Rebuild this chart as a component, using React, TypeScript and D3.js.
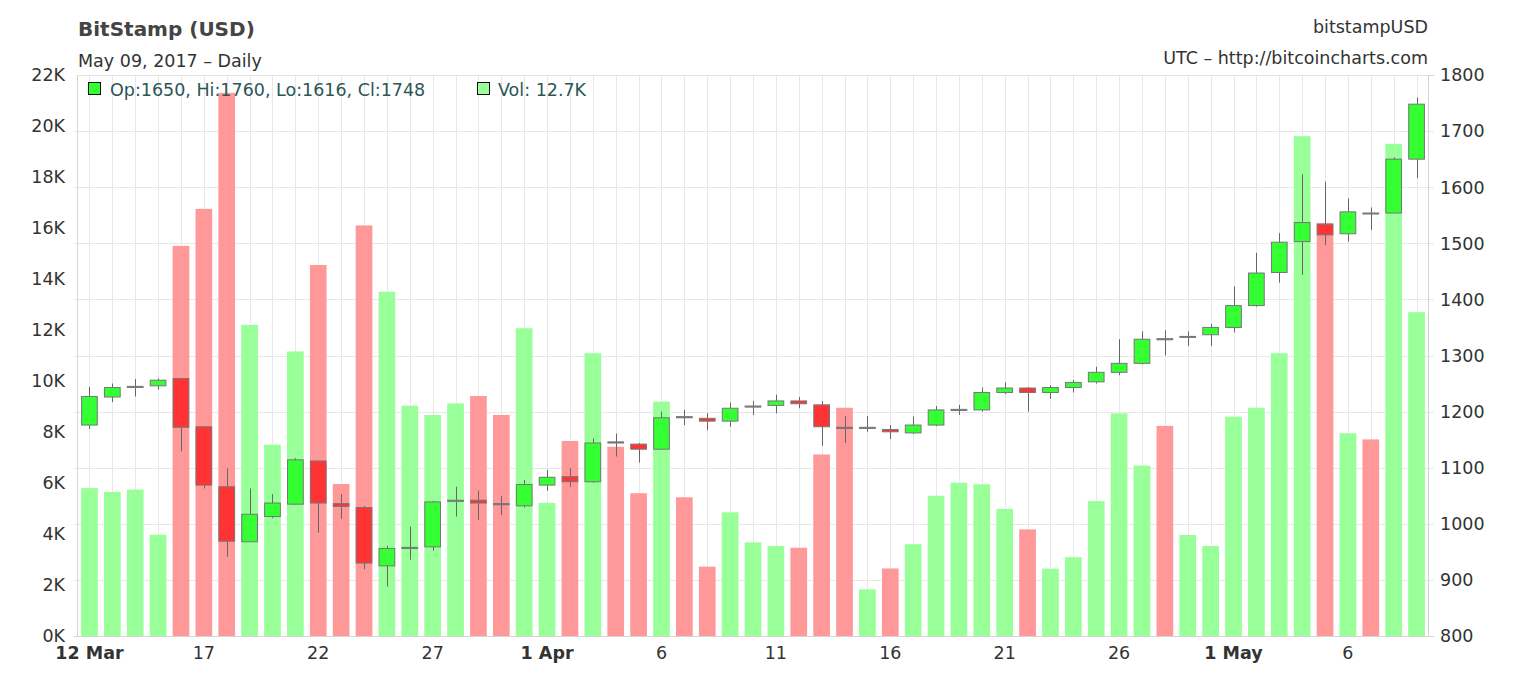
import React, { useEffect } from "react";
import * as d3 from "d3";

// daily candles, 12 Mar 2017 .. 9 May 2017
const days = d3.timeDay.range(new Date(2017, 2, 12), new Date(2017, 4, 10));

const opens = [
  1176, 1226, 1243, 1246, 1259, 1173, 1066, 968, 1013, 1035, 1112, 1036, 1029, 925, 956,
  959, 1040, 1042, 1036, 1032, 1069, 1084, 1075, 1146, 1142, 1133, 1191, 1188, 1183, 1208,
  1211, 1219, 1212, 1172, 1170, 1168, 1162, 1176, 1202, 1203, 1234, 1242, 1234, 1243, 1253,
  1270, 1286, 1330, 1333, 1337, 1350, 1389, 1448, 1503, 1534, 1517, 1554, 1554, 1650,
];
const highs = [
  1244, 1250, 1258, 1259, 1260, 1174, 1099, 1063, 1053, 1117, 1113, 1053, 1032, 961, 995,
  1041, 1066, 1059, 1050, 1078, 1096, 1099, 1152, 1161, 1144, 1200, 1203, 1197, 1216, 1219,
  1230, 1226, 1219, 1192, 1192, 1176, 1191, 1210, 1212, 1243, 1252, 1244, 1247, 1256, 1280,
  1329, 1343, 1345, 1343, 1356, 1423, 1483, 1518, 1623, 1610, 1580, 1564, 1653, 1760,
];
const lows = [
  1169, 1217, 1227, 1239, 1129, 1063, 941, 968, 1010, 1034, 984, 1009, 919, 888, 936,
  952, 1013, 1007, 1016, 1029, 1059, 1066, 1073, 1120, 1109, 1132, 1176, 1167, 1173, 1194,
  1197, 1206, 1139, 1144, 1164, 1151, 1160, 1174, 1194, 1200, 1231, 1200, 1223, 1234, 1250,
  1265, 1284, 1300, 1317, 1317, 1341, 1387, 1430, 1444, 1497, 1503, 1524, 1554, 1616,
];
const closes = [
  1227, 1243, 1245, 1256, 1172, 1069, 969, 1017, 1037, 1114, 1037, 1031, 930, 956, 958,
  1039, 1042, 1037, 1034, 1070, 1083, 1075, 1144, 1144, 1133, 1189, 1189, 1183, 1206, 1210,
  1219, 1214, 1173, 1170, 1172, 1164, 1176, 1203, 1204, 1234, 1242, 1234, 1243, 1252, 1270,
  1286, 1329, 1328, 1334, 1350, 1389, 1447, 1502, 1537, 1515, 1556, 1553, 1650, 1748,
];
// volume in BTC
const volumes = [
  5800, 5650, 5740, 3970, 15300, 16750, 21300, 12200, 7500, 11160, 14550, 5960, 16100, 13500, 9030,
  8670, 9120, 9410, 8670, 12070, 5220, 7650, 11090, 7420, 5600, 9190, 5440, 2720, 4850, 3670,
  3530, 3460, 7120, 8950, 1830, 2650, 3600, 5500, 6010, 5950, 4980, 4180, 2640, 3090, 5290,
  8730, 6680, 8240, 3960, 3530, 8600, 8950, 11090, 19600, 16200, 7950, 7710, 19300, 12700,
];

const volTicks = [0, 2000, 4000, 6000, 8000, 10000, 12000, 14000, 16000, 18000, 20000, 22000];
const priceTicks = [800, 900, 1000, 1100, 1200, 1300, 1400, 1500, 1600, 1700, 1800];
const xTicks = [
  { day: "2017-03-12", label: "12 Mar", bold: true },
  { day: "2017-03-17", label: "17", bold: false },
  { day: "2017-03-22", label: "22", bold: false },
  { day: "2017-03-27", label: "27", bold: false },
  { day: "2017-04-01", label: "1 Apr", bold: true },
  { day: "2017-04-06", label: "6", bold: false },
  { day: "2017-04-11", label: "11", bold: false },
  { day: "2017-04-16", label: "16", bold: false },
  { day: "2017-04-21", label: "21", bold: false },
  { day: "2017-04-26", label: "26", bold: false },
  { day: "2017-05-01", label: "1 May", bold: true },
  { day: "2017-05-06", label: "6", bold: false },
];

const width = 1513;
const height = 679;
const left = 78;
const right = 1428;
const top = 75;
const bottom = 636;
const font = "'DejaVu Sans', sans-serif";
const textSize = "17.5px";

export default function App() {
  const svgRef = React.useRef(null);

  useEffect(() => {
    const svg = d3.select(svgRef.current);
    svg.selectAll("*").remove();

    const keyOf = d3.timeFormat("%Y-%m-%d");
    const keys = days.map((d) => keyOf(d));
    const x = d3.scaleBand<string>().domain(keys).range([left, right]).paddingInner(0.27).paddingOuter(0.135);
    const yVol = d3.scaleLinear().domain([0, 22000]).range([bottom, top]);
    const yPrice = d3.scaleLinear().domain([800, 1800]).range([bottom, top]);
    const cx = (k: string) => (x(k) as number) + x.bandwidth() / 2;
    const up = (i: number) => closes[i] >= opens[i];

    svg.append("rect").attr("width", width).attr("height", height).attr("fill", "#fff");

    // grid
    svg
      .append("g")
      .selectAll("line")
      .data(keys)
      .enter()
      .append("line")
      .attr("x1", (d) => Math.round(cx(d)) + 0.5)
      .attr("x2", (d) => Math.round(cx(d)) + 0.5)
      .attr("y1", top)
      .attr("y2", bottom)
      .attr("stroke", "#e8e8e8");
    svg
      .append("g")
      .selectAll("line")
      .data(priceTicks.slice(1, -1))
      .enter()
      .append("line")
      .attr("x1", left - 4)
      .attr("x2", right + 6)
      .attr("y1", (d) => Math.round(yPrice(d)) + 0.5)
      .attr("y2", (d) => Math.round(yPrice(d)) + 0.5)
      .attr("stroke", "#e8e8e8");

    // volume bars
    svg
      .append("g")
      .selectAll("rect")
      .data(keys)
      .enter()
      .append("rect")
      .attr("x", (d) => x(d) as number)
      .attr("width", x.bandwidth())
      .attr("y", (d, i) => yVol(volumes[i]))
      .attr("height", (d, i) => bottom - yVol(volumes[i]))
      .attr("fill", (d, i) => (up(i) ? "#99ff99" : "#ff9999"));

    // axes frame
    const frame = svg.append("g").attr("stroke", "#d4d4d4").attr("fill", "none");
    frame.append("line").attr("x1", left).attr("x2", right).attr("y1", top + 0.5).attr("y2", top + 0.5).attr("stroke", "#e4e4e4");
    frame.append("line").attr("x1", left - 0.5).attr("x2", left - 0.5).attr("y1", top).attr("y2", bottom);
    frame.append("line").attr("x1", right + 0.5).attr("x2", right + 0.5).attr("y1", top).attr("y2", bottom);
    frame.append("line").attr("x1", left - 4).attr("x2", right + 6).attr("y1", bottom + 0.5).attr("y2", bottom + 0.5);
    frame
      .selectAll(".rt")
      .data([priceTicks[0], priceTicks[priceTicks.length - 1]])
      .enter()
      .append("line")
      .attr("x1", right)
      .attr("x2", right + 6)
      .attr("y1", (d) => Math.round(yPrice(d)) + 0.5)
      .attr("y2", (d) => Math.round(yPrice(d)) + 0.5);

    // candles
    const candles = svg
      .append("g")
      .selectAll("g")
      .data(keys)
      .enter()
      .append("g");
    candles
      .append("line")
      .attr("x1", (d) => Math.round(cx(d)) + 0.5)
      .attr("x2", (d) => Math.round(cx(d)) + 0.5)
      .attr("y1", (d, i) => yPrice(highs[i]))
      .attr("y2", (d, i) => yPrice(lows[i]))
      .attr("stroke", "#666");
    candles
      .append("rect")
      .attr("x", (d) => (x(d) as number) + 0.5)
      .attr("width", x.bandwidth() - 1)
      .attr("y", (d, i) => yPrice(Math.max(opens[i], closes[i])))
      .attr("height", (d, i) => Math.max(1, Math.abs(yPrice(opens[i]) - yPrice(closes[i]))))
      .attr("fill", (d, i) => (up(i) ? "#33ff33" : "#ff3333"))
      .attr("stroke", "#777");

    // left axis labels
    svg
      .append("g")
      .selectAll("text")
      .data(volTicks)
      .enter()
      .append("text")
      .attr("x", 65)
      .attr("y", (d) => yVol(d))
      .attr("dy", "0.32em")
      .attr("text-anchor", "end")
      .attr("fill", "#333")
      .style("font", `${textSize} ${font}`)
      .text((d) => d / 1000 + "K");

    // right axis labels
    svg
      .append("g")
      .selectAll("text")
      .data(priceTicks)
      .enter()
      .append("text")
      .attr("x", right + 12)
      .attr("y", (d) => yPrice(d))
      .attr("dy", "0.36em")
      .attr("fill", "#333")
      .style("font", `${textSize} ${font}`)
      .text((d) => d);

    // x labels
    svg
      .append("g")
      .selectAll("text")
      .data(xTicks)
      .enter()
      .append("text")
      .attr("x", (d) => cx(d.day))
      .attr("y", 659)
      .attr("text-anchor", "middle")
      .attr("fill", "#333")
      .style("font", (d) => `${d.bold ? "bold " : ""}${textSize} ${font}`)
      .text((d) => d.label);

    // titles
    svg.append("text").attr("x", left).attr("y", 36).attr("fill", "#444")
      .style("font", `bold 20px ${font}`).text("BitStamp (USD)");
    svg.append("text").attr("x", left).attr("y", 67).attr("fill", "#333")
      .style("font", `${textSize} ${font}`).text("May 09, 2017 \u2013 Daily");
    svg.append("text").attr("x", right).attr("y", 33).attr("text-anchor", "end").attr("fill", "#333")
      .style("font", `${textSize} ${font}`).text("bitstampUSD");
    svg.append("text").attr("x", right).attr("y", 64).attr("text-anchor", "end").attr("fill", "#333")
      .style("font", `${textSize} ${font}`).text("UTC \u2013 http://bitcoincharts.com");

    // legend for the last day
    const last = keys.length - 1;
    const legend = svg.append("g");
    legend.append("rect").attr("x", 88.5).attr("y", 82.5).attr("width", 12).attr("height", 12)
      .attr("fill", "#33ff33").attr("stroke", "#111");
    legend.append("text").attr("x", 110).attr("y", 96).attr("fill", "#2a5656")
      .style("font", `${textSize} ${font}`)
      .text(`Op:${opens[last]}, Hi:${highs[last]}, Lo:${lows[last]}, Cl:${closes[last]}`);
    legend.append("rect").attr("x", 477.5).attr("y", 82.5).attr("width", 12).attr("height", 12)
      .attr("fill", "#99ff99").attr("stroke", "#111");
    legend.append("text").attr("x", 498).attr("y", 96).attr("fill", "#2a5656")
      .style("font", `${textSize} ${font}`)
      .text(`Vol: ${(volumes[last] / 1000).toFixed(1)}K`);
  }, []);

  return (
    <svg
      ref={svgRef}
      width={width}
      height={height}
      style={{ position: "absolute", left: 0, top: 0, display: "block" }}
    />
  );
}
